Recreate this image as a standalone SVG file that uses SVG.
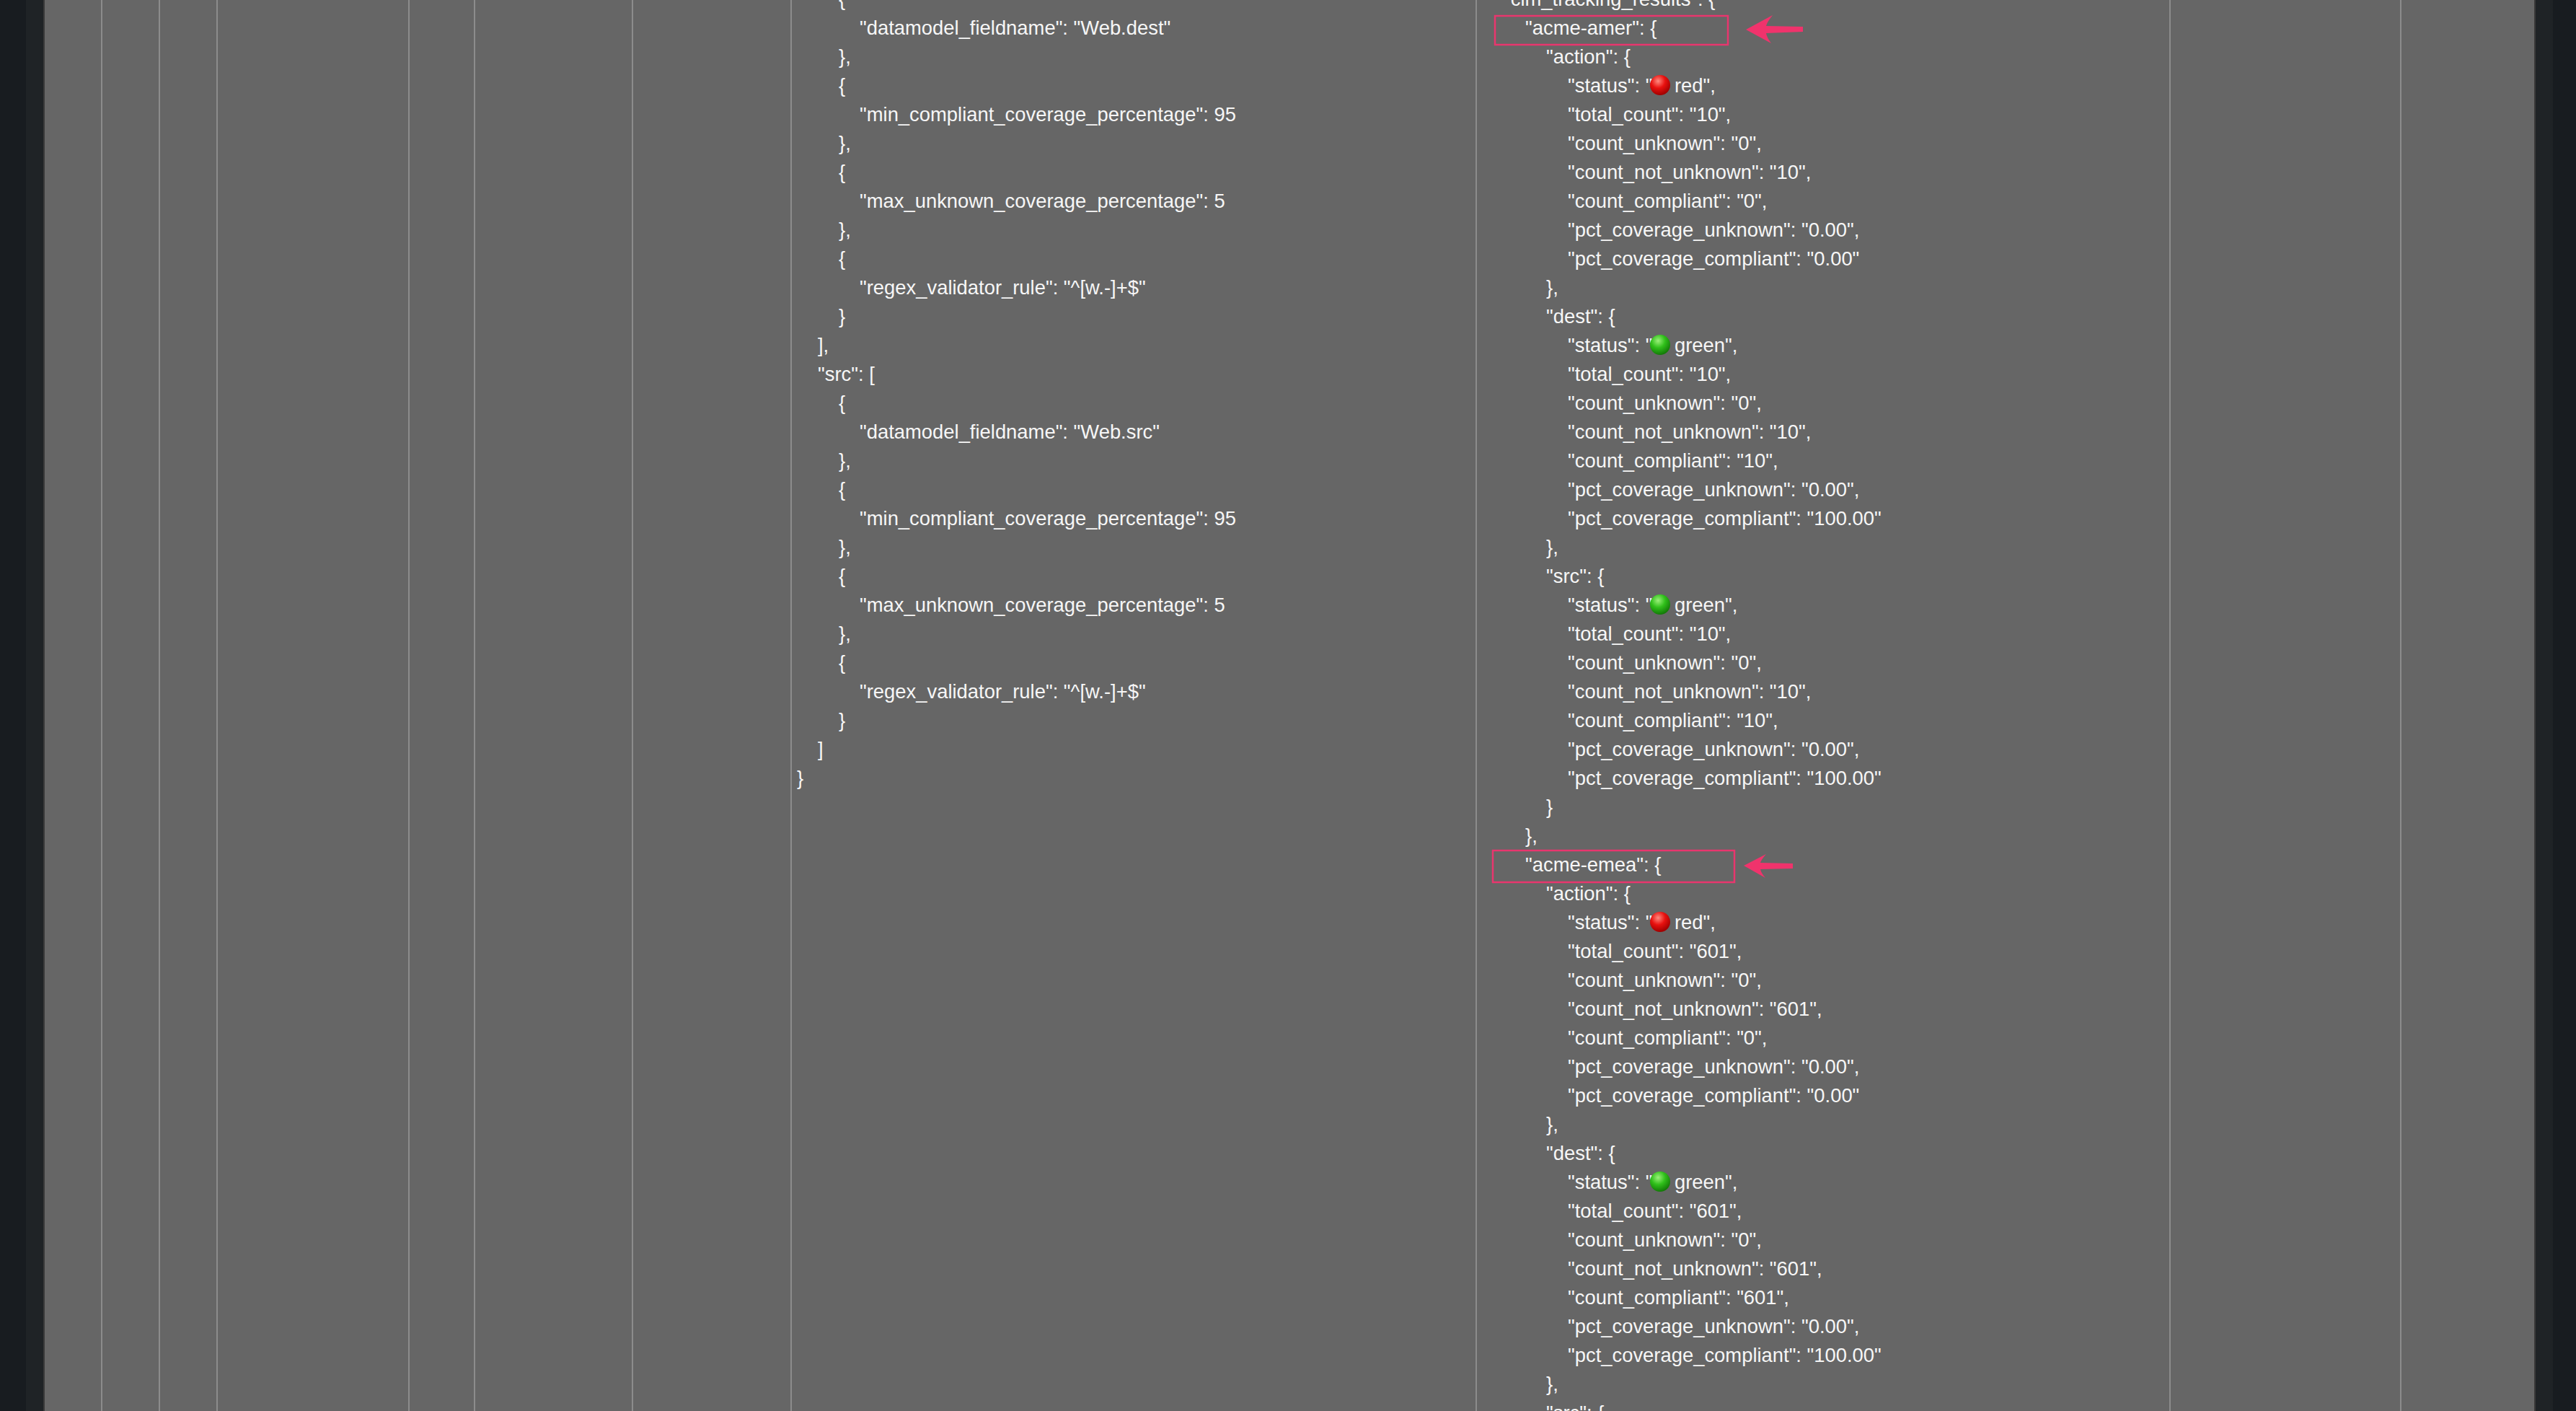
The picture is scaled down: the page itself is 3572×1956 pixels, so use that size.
<svg xmlns="http://www.w3.org/2000/svg" width="3572" height="1956" viewBox="0 0 3572 1956">
<style>
text{font-family:"Liberation Sans",Arial,sans-serif;font-size:27.4px;fill:#f6f6f6}
.vl{stroke:#8c8c8c;stroke-width:2}
.hl{fill:none;stroke:#e8366e;stroke-width:2.5}
.ar{fill:#f0336c}
</style>
<defs>
<radialGradient id="gr" cx="0.4" cy="0.3" r="0.7"><stop offset="0" stop-color="#ff8a80"/><stop offset="0.5" stop-color="#e8110f"/><stop offset="1" stop-color="#a00000"/></radialGradient>
<radialGradient id="gg" cx="0.4" cy="0.3" r="0.7"><stop offset="0" stop-color="#9bf07a"/><stop offset="0.5" stop-color="#2fbf1a"/><stop offset="1" stop-color="#137a08"/></radialGradient>
</defs>
<rect width="3572" height="1956" fill="#666666"/>
<rect x="0" y="0" width="36" height="1956" fill="#181c20"/>
<rect x="36" y="0" width="25" height="1956" fill="#1f2326"/>
<rect x="3515" y="0" width="25" height="1956" fill="#1f2326"/>
<rect x="3540" y="0" width="32" height="1956" fill="#181c20"/>
<line x1="61" y1="0" x2="61" y2="1956" stroke="#3a3a3a" stroke-width="2"/>
<line x1="3515" y1="0" x2="3515" y2="1956" stroke="#3a3a3a" stroke-width="2"/>
<g id="grid">
<line class="vl" x1="141" y1="0" x2="141" y2="1956"/>
<line class="vl" x1="221" y1="0" x2="221" y2="1956"/>
<line class="vl" x1="301" y1="0" x2="301" y2="1956"/>
<line class="vl" x1="567" y1="0" x2="567" y2="1956"/>
<line class="vl" x1="658" y1="0" x2="658" y2="1956"/>
<line class="vl" x1="877" y1="0" x2="877" y2="1956"/>
<line class="vl" x1="1097" y1="0" x2="1097" y2="1956"/>
<line class="vl" x1="2047" y1="0" x2="2047" y2="1956"/>
<line class="vl" x1="3009" y1="0" x2="3009" y2="1956"/>
<line class="vl" x1="3329" y1="0" x2="3329" y2="1956"/>
</g>
<g id="left-json">
<text x="1163" y="8">{</text>
<text x="1192" y="48">"datamodel_fieldname": "Web.dest"</text>
<text x="1163" y="88">},</text>
<text x="1163" y="128">{</text>
<text x="1192" y="168">"min_compliant_coverage_percentage": 95</text>
<text x="1163" y="208">},</text>
<text x="1163" y="248">{</text>
<text x="1192" y="288">"max_unknown_coverage_percentage": 5</text>
<text x="1163" y="328">},</text>
<text x="1163" y="368">{</text>
<text x="1192" y="408">"regex_validator_rule": "^[w.-]+$"</text>
<text x="1163" y="448">}</text>
<text x="1134" y="488">],</text>
<text x="1134" y="528">"src": [</text>
<text x="1163" y="568">{</text>
<text x="1192" y="608">"datamodel_fieldname": "Web.src"</text>
<text x="1163" y="648">},</text>
<text x="1163" y="688">{</text>
<text x="1192" y="728">"min_compliant_coverage_percentage": 95</text>
<text x="1163" y="768">},</text>
<text x="1163" y="808">{</text>
<text x="1192" y="848">"max_unknown_coverage_percentage": 5</text>
<text x="1163" y="888">},</text>
<text x="1163" y="928">{</text>
<text x="1192" y="968">"regex_validator_rule": "^[w.-]+$"</text>
<text x="1163" y="1008">}</text>
<text x="1134" y="1048">]</text>
<text x="1105" y="1088">}</text>
</g>
<g id="right-json">
<text x="2085" y="8">"cim_tracking_results": {</text>
<text x="2115" y="48">"acme-amer": {</text>
<text x="2144" y="88">"action": {</text>
<text x="2174" y="128">"status": "</text><circle cx="2302" cy="118" r="14" fill="url(#gr)"/><text x="2322" y="128">red",</text>
<text x="2174" y="168">"total_count": "10",</text>
<text x="2174" y="208">"count_unknown": "0",</text>
<text x="2174" y="248">"count_not_unknown": "10",</text>
<text x="2174" y="288">"count_compliant": "0",</text>
<text x="2174" y="328">"pct_coverage_unknown": "0.00",</text>
<text x="2174" y="368">"pct_coverage_compliant": "0.00"</text>
<text x="2144" y="408">},</text>
<text x="2144" y="448">"dest": {</text>
<text x="2174" y="488">"status": "</text><circle cx="2302" cy="478" r="14" fill="url(#gg)"/><text x="2322" y="488">green",</text>
<text x="2174" y="528">"total_count": "10",</text>
<text x="2174" y="568">"count_unknown": "0",</text>
<text x="2174" y="608">"count_not_unknown": "10",</text>
<text x="2174" y="648">"count_compliant": "10",</text>
<text x="2174" y="688">"pct_coverage_unknown": "0.00",</text>
<text x="2174" y="728">"pct_coverage_compliant": "100.00"</text>
<text x="2144" y="768">},</text>
<text x="2144" y="808">"src": {</text>
<text x="2174" y="848">"status": "</text><circle cx="2302" cy="838" r="14" fill="url(#gg)"/><text x="2322" y="848">green",</text>
<text x="2174" y="888">"total_count": "10",</text>
<text x="2174" y="928">"count_unknown": "0",</text>
<text x="2174" y="968">"count_not_unknown": "10",</text>
<text x="2174" y="1008">"count_compliant": "10",</text>
<text x="2174" y="1048">"pct_coverage_unknown": "0.00",</text>
<text x="2174" y="1088">"pct_coverage_compliant": "100.00"</text>
<text x="2144" y="1128">}</text>
<text x="2115" y="1168">},</text>
<text x="2115" y="1208">"acme-emea": {</text>
<text x="2144" y="1248">"action": {</text>
<text x="2174" y="1288">"status": "</text><circle cx="2302" cy="1278" r="14" fill="url(#gr)"/><text x="2322" y="1288">red",</text>
<text x="2174" y="1328">"total_count": "601",</text>
<text x="2174" y="1368">"count_unknown": "0",</text>
<text x="2174" y="1408">"count_not_unknown": "601",</text>
<text x="2174" y="1448">"count_compliant": "0",</text>
<text x="2174" y="1488">"pct_coverage_unknown": "0.00",</text>
<text x="2174" y="1528">"pct_coverage_compliant": "0.00"</text>
<text x="2144" y="1568">},</text>
<text x="2144" y="1608">"dest": {</text>
<text x="2174" y="1648">"status": "</text><circle cx="2302" cy="1638" r="14" fill="url(#gg)"/><text x="2322" y="1648">green",</text>
<text x="2174" y="1688">"total_count": "601",</text>
<text x="2174" y="1728">"count_unknown": "0",</text>
<text x="2174" y="1768">"count_not_unknown": "601",</text>
<text x="2174" y="1808">"count_compliant": "601",</text>
<text x="2174" y="1848">"pct_coverage_unknown": "0.00",</text>
<text x="2174" y="1888">"pct_coverage_compliant": "100.00"</text>
<text x="2144" y="1928">},</text>
<text x="2144" y="1968">"src": {</text>
</g>
<g id="highlights">
<rect class="hl" x="2073" y="22" width="323" height="40"/>
<rect class="hl" x="2070" y="1179" width="335" height="44"/>
</g>
<g id="connectors">
<path class="ar" d="M2421,41 L2458,21 Q2450,31 2449,36 L2500,37 L2500,44 L2449,46 Q2450,52 2456,60 Z"/>
<path class="ar" d="M2418,1200 L2449,1184 Q2442,1192 2441,1196 L2486,1197 L2486,1204 L2441,1205 Q2442,1210 2448,1217 Z"/>
</g>
</svg>
